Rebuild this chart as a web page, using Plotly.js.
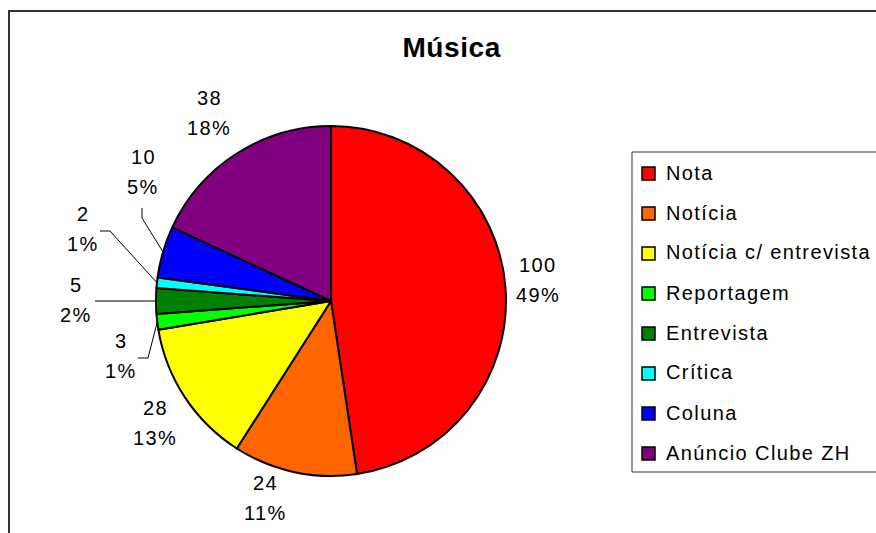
<!DOCTYPE html>
<html>
<head>
<meta charset="utf-8">
<script src="https://cdn.plot.ly/plotly-3.0.1.min.js"></script>
<style>
html,body{margin:0;padding:0;background:#fff;}
#chart{width:876px;height:533px;}
svg text{letter-spacing:1.4px;}
#chart g.annotation[data-index="0"] text{letter-spacing:0.6px;}
</style>
</head>
<body>
<div id="chart"></div>
<script>
// ---- data ----
const categories = ['Nota', 'Notícia', 'Notícia c/ entrevista', 'Reportagem', 'Entrevista', 'Crítica', 'Coluna', 'Anúncio Clube ZH'];
const values = [100, 24, 28, 3, 5, 2, 10, 38];
const percentLabels = ['49%', '11%', '13%', '1%', '2%', '1%', '5%', '18%'];
const colors = ['#FF0000', '#FF6600', '#FFFF00', '#00FF00', '#008000', '#00FFFF', '#0000FF', '#800080'];
const chartTitle = 'Música';

// ---- layout helpers (pixels -> paper) ----
const W = 876, H = 533;
const px = x => x / W;
const py = y => 1 - y / H;
const FONT = 'Liberation Sans, Arial, sans-serif';

// pie geometry
const cx = 331, cy = 301, R = 175;

// label block centres (pixels) and leader-line elbows for small slices
const labelPos = [[538, 280], [265, 498], [155, 423], [121, 356], [76, 300], [83, 229], [143, 172], [209, 113]];
const leaderElbows = {3: [[138, 358], [148, 358]], 4: [[95, 301]], 5: [[100, 231], [110, 231]], 6: [[142, 208], [142, 218]]};

const total = values.reduce((a, b) => a + b, 0);
const annotations = [];
const shapes = [];

// title
annotations.push({text: '<b>' + chartTitle + '</b>', x: px(451), y: py(47), xref: 'paper', yref: 'paper',
  xanchor: 'center', yanchor: 'middle', showarrow: false, font: {family: FONT, size: 28, color: '#000'}});

// data labels + leader lines
let cum = 0;
values.forEach((v, i) => {
  const mid = (cum + v / 2) / total * 2 * Math.PI;
  cum += v;
  const [lx, ly] = labelPos[i];
  annotations.push({text: String(v), x: px(lx), y: py(ly - 15), xref: 'paper', yref: 'paper',
    xanchor: 'center', yanchor: 'middle', showarrow: false, font: {family: FONT, size: 20, color: '#000'}});
  annotations.push({text: percentLabels[i], x: px(lx), y: py(ly + 15), xref: 'paper', yref: 'paper',
    xanchor: 'center', yanchor: 'middle', showarrow: false, font: {family: FONT, size: 20, color: '#000'}});
  if (leaderElbows[i]) {
    const ex = cx + R * Math.sin(mid), ey = cy - R * Math.cos(mid);
    const pts = leaderElbows[i].concat([[ex, ey]]);
    const path = pts.map((p, k) => (k ? 'L' : 'M') + px(p[0]).toFixed(5) + ',' + py(p[1]).toFixed(5)).join(' ');
    shapes.push({type: 'path', xref: 'paper', yref: 'paper', path: path, line: {color: '#000', width: 1}});
  }
});

// chart border
shapes.push({type: 'rect', xref: 'paper', yref: 'paper', x0: px(9), x1: px(900), y0: py(560), y1: py(11),
  line: {color: '#333', width: 2}, fillcolor: 'rgba(0,0,0,0)'});

// manual legend
const lgX0 = 632, lgY0 = 152, lgY1 = 472, lgStep = 40, lgFirst = 173.5;
shapes.push({type: 'rect', xref: 'paper', yref: 'paper', x0: px(lgX0), x1: px(900), y0: py(lgY1), y1: py(lgY0),
  line: {color: '#333', width: 1}, fillcolor: 'rgba(0,0,0,0)'});
categories.forEach((c, i) => {
  const yc = lgFirst + i * lgStep;
  shapes.push({type: 'rect', xref: 'paper', yref: 'paper', x0: px(642), x1: px(655), y0: py(yc + 6.5), y1: py(yc - 6.5),
    line: {color: '#000', width: 1.5}, fillcolor: colors[i]});
  annotations.push({text: c, x: px(664), y: py(yc - 1), xref: 'paper', yref: 'paper',
    xanchor: 'left', yanchor: 'middle', showarrow: false, font: {family: FONT, size: 20, color: '#000'}});
});

const trace = {
  type: 'pie',
  labels: categories,
  values: values,
  sort: false,
  direction: 'clockwise',
  rotation: 0,
  textinfo: 'none',
  hoverinfo: 'label+value',
  showlegend: false,
  marker: {colors: colors, line: {color: '#000', width: 2}},
  domain: {x: [px(cx - R), px(cx + R)], y: [py(cy + R), py(cy - R)]}
};

const layout = {
  width: W, height: H,
  margin: {l: 0, r: 0, t: 0, b: 0},
  paper_bgcolor: '#fff',
  plot_bgcolor: '#fff',
  showlegend: false,
  annotations: annotations,
  shapes: shapes,
  font: {family: FONT}
};

Plotly.newPlot('chart', [trace], layout, {displayModeBar: false, staticPlot: true});
</script>
</body>
</html>
